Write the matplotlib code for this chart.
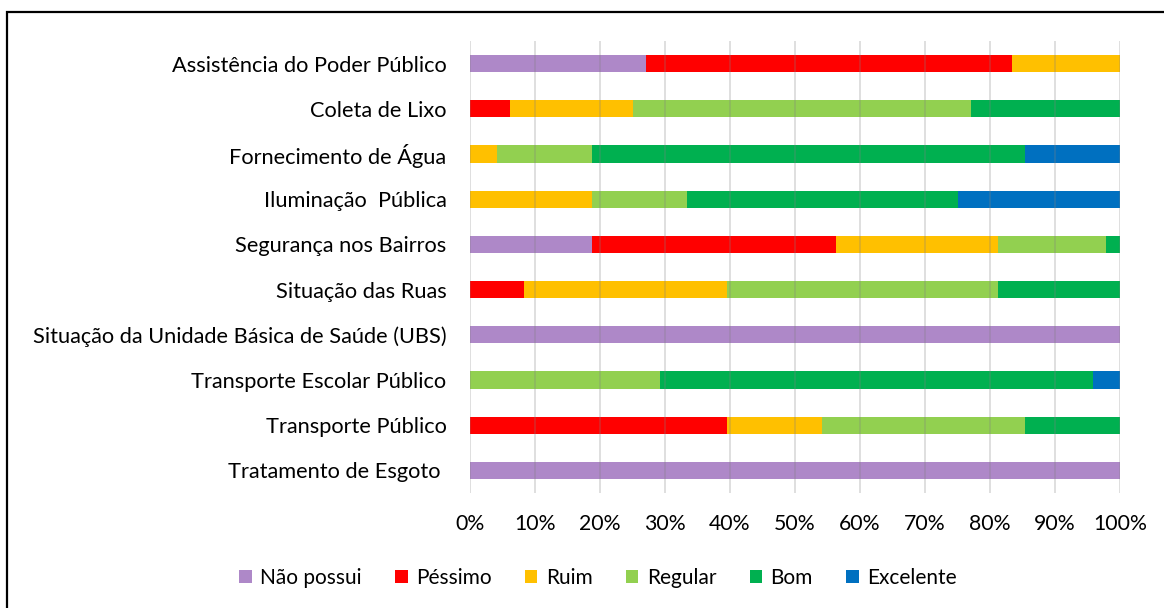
import matplotlib.pyplot as plt
from matplotlib.patches import Rectangle
from matplotlib.ticker import PercentFormatter
import numpy as np

plt.rcParams['font.family'] = ['Lato', 'DejaVu Sans']

# categories, top to bottom
categorias = [
    "Assistência do Poder Público",
    "Coleta de Lixo",
    "Fornecimento de Água",
    "Iluminação  Pública",
    "Segurança nos Bairros",
    "Situação das Ruas",
    "Situação da Unidade Básica de Saúde (UBS)",
    "Transporte Escolar Público",
    "Transporte Público",
    "Tratamento de Esgoto ",
]

# share of answers (%)
nao_possui = [27.1, 0, 0, 0, 18.8, 0, 100, 0, 0, 100]
pessimo = [56.3, 6.2, 0, 0, 37.5, 8.3, 0, 0, 39.6, 0]
ruim = [16.6, 18.8, 4.2, 18.8, 25.0, 31.3, 0, 0, 14.6, 0]
regular = [0, 52.1, 14.6, 14.6, 16.6, 41.7, 0, 29.2, 31.2, 0]
bom = [0, 22.9, 66.6, 41.6, 2.1, 18.7, 0, 66.6, 14.6, 0]
excelente = [0, 0, 14.6, 25.0, 0, 0, 0, 4.2, 0, 0]

series = [
    ("Não possui", nao_possui, "#AE88C8"),
    ("Péssimo", pessimo, "#FF0000"),
    ("Ruim", ruim, "#FFC000"),
    ("Regular", regular, "#92D050"),
    ("Bom", bom, "#00B050"),
    ("Excelente", excelente, "#0070C0"),
]

fig = plt.figure(figsize=(11.64, 6.08), dpi=100)
ax = fig.add_axes([470 / 1164, 1 - 493 / 608, 650 / 1164, 452 / 608])

y = np.arange(len(categorias))
left = np.zeros(len(categorias))
for nome, vals, cor in series:
    vals = np.array(vals, dtype=float)
    ax.barh(y, vals, left=left, height=0.38, color=cor, label=nome, zorder=1)
    left += vals

ax.set_xlim(0, 100)
ax.set_ylim(len(categorias) - 0.5, -0.5)
ax.set_xticks(np.arange(0, 101, 10))
ax.xaxis.set_major_formatter(PercentFormatter(decimals=0))
ax.set_yticks(y)
ax.set_yticklabels(categorias)
ax.tick_params(axis='both', length=0, labelsize=15.3, colors='black')
ax.tick_params(axis='y', pad=17, labelsize=15.7)
ax.tick_params(axis='x', pad=15)
ax.grid(axis='x', color='#808080', alpha=0.3, lw=1.2, zorder=3)
ax.set_axisbelow(False)
for s in ax.spines.values():
    s.set_visible(False)

fig.legend(loc='center', bbox_to_anchor=(598 / 1164, 1 - 578 / 608), ncol=6,
           frameon=False, fontsize=15, handlelength=0.6, handleheight=0.6,
           handletextpad=0.4, columnspacing=1.6)

# outer frame
fig.patches.append(Rectangle((7 / 1164, -0.1), 1.2, 1 - 12 / 608 + 0.1,
                             transform=fig.transFigure, fill=False,
                             edgecolor='black', lw=1.6))

plt.savefig("out.png", dpi=100)
